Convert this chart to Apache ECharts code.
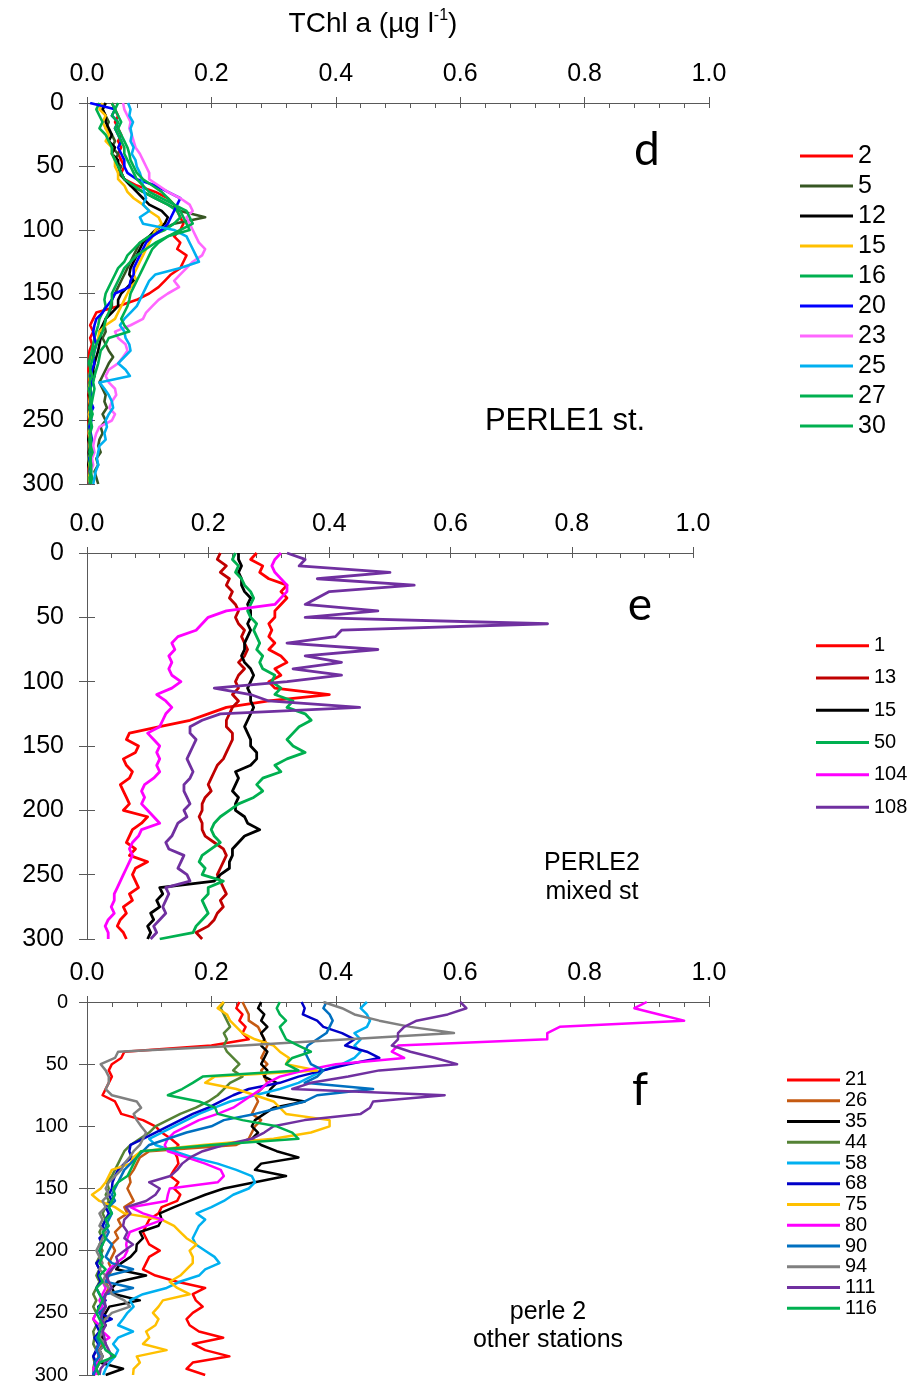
<!DOCTYPE html>
<html><head><meta charset="utf-8">
<script src="https://cdn.jsdelivr.net/npm/echarts@6/dist/echarts.min.js"></script>
<style>html,body{margin:0;padding:0;background:#fff}#c{width:917px;height:1385px}</style>
</head><body><div id="c"></div><script>
// depth (m), shared by all profiles
const depth = [0,5,10,15,20,25,30,35,40,45,50,55,60,65,70,75,80,85,90,95,100,105,110,115,120,125,130,135,140,145,150,155,160,165,170,175,180,185,190,195,200,205,210,215,220,225,230,235,240,245,250,255,260,265,270,275,280,285,290,295,300];
const xTickLabels = [0.0,0.2,0.4,0.6,0.8,1.0];
const yTickLabels = [0,50,100,150,200,250,300];

// ---- panel d : PERLE1 st. ----
const dNames = ['2','5','12','15','16','20','23','25','27','30'];
const d2 = [0.04,0.045,0.05,0.045,0.05,0.055,0.05,0.055,0.05,0.055, 0.06,0.055,0.06,0.08,0.11,0.13,0.14,0.145,0.15,0.155, 0.15,0.14,0.15,0.145,0.16,0.155,0.15,0.135,0.125,0.115, 0.1,0.08,0.05,0.015,0.01,0.005,0.01,0.005,0.008,0.004, 0.003,0.005,0.002,0.004,0.003,0.005,0.002,0.004,0.003,0.005, 0.002,0.004,0.003,0.002,0.004,0.003,0.005,0.002,0.003,0.004, 0.003];
const d5 = [0.03,0.025,0.03,0.035,0.03,0.04,0.045,0.04,0.05,0.045, 0.055,0.05,0.06,0.07,0.09,0.11,0.13,0.15,0.19,0.14, 0.12,0.1,0.085,0.08,0.075,0.07,0.065,0.06,0.055,0.05, 0.045,0.04,0.04,0.036,0.03,0.028,0.03,0.025,0.03,0.035, 0.042,0.035,0.03,0.025,0.02,0.025,0.03,0.028,0.032,0.025, 0.03,0.022,0.025,0.02,0.018,0.022,0.015,0.018,0.012,0.015, 0.018];
const d12 = [0.03,0.025,0.03,0.03,0.035,0.04,0.035,0.045,0.04,0.05, 0.05,0.055,0.06,0.07,0.08,0.09,0.1,0.12,0.13,0.125, 0.11,0.1,0.09,0.085,0.08,0.075,0.07,0.068,0.075,0.065, 0.055,0.05,0.05,0.04,0.03,0.025,0.02,0.022,0.02,0.018, 0.015,0.012,0.01,0.012,0.008,0.005,0.003,0.005,0.004,0.006, 0.003,0.005,0.004,0.002,0.005,0.003,0.004,0.002,0.005,0.003, 0.004];
const d15 = [0.025,0.02,0.03,0.025,0.03,0.035,0.03,0.04,0.04,0.045, 0.045,0.05,0.05,0.06,0.065,0.075,0.09,0.1,0.115,0.12, 0.11,0.105,0.1,0.095,0.09,0.085,0.08,0.075,0.08,0.07, 0.065,0.06,0.055,0.05,0.045,0.03,0.02,0.018,0.015,0.01, 0.008,0.005,0.006,0.004,0.005,0.003,0.005,0.004,0.006,0.003, 0.005,0.004,0.003,0.005,0.004,0.006,0.003,0.004,0.005,0.003, 0.004];
const d16 = [0.02,0.015,0.02,0.025,0.02,0.03,0.035,0.04,0.04,0.045, 0.05,0.055,0.06,0.075,0.09,0.11,0.13,0.145,0.15,0.14, 0.125,0.1,0.085,0.075,0.065,0.06,0.05,0.045,0.04,0.035, 0.03,0.028,0.03,0.025,0.02,0.018,0.015,0.012,0.01,0.008, 0.005,0.003,0.006,0.004,0.007,0.003,0.005,0.006,0.004,0.008, 0.005,0.003,0.006,0.004,0.005,0.007,0.003,0.005,0.004,0.006, 0.005];
const d20 = [0.005,0.045,0.04,0.05,0.045,0.05,0.055,0.05,0.055,0.06, 0.06,0.065,0.08,0.11,0.13,0.15,0.145,0.14,0.135,0.13, 0.12,0.105,0.095,0.09,0.085,0.08,0.075,0.075,0.07,0.068, 0.045,0.04,0.032,0.025,0.015,0.012,0.01,0.012,0.015,0.012, 0.01,0.012,0.008,0.006,0.009,0.005,0.008,0.006,0.01,0.005, 0.007,0.004,0.006,0.008,0.005,0.007,0.004,0.006,0.005,0.007, 0.004];
const d23 = [0.058,0.06,0.065,0.07,0.068,0.072,0.075,0.078,0.085,0.09, 0.095,0.1,0.1,0.115,0.13,0.15,0.165,0.17,0.16,0.165, 0.17,0.175,0.18,0.19,0.185,0.17,0.16,0.15,0.14,0.148, 0.13,0.115,0.105,0.095,0.09,0.07,0.045,0.05,0.062,0.065, 0.058,0.05,0.035,0.03,0.035,0.045,0.047,0.04,0.036,0.045, 0.04,0.02,0.015,0.012,0.01,0.012,0.008,0.01,0.006,0.008, 0.006];
const d25 = [0.066,0.07,0.068,0.074,0.07,0.072,0.07,0.075,0.072,0.078, 0.08,0.085,0.088,0.09,0.092,0.095,0.09,0.1,0.085,0.09, 0.14,0.16,0.165,0.17,0.175,0.18,0.15,0.11,0.1,0.095, 0.09,0.085,0.08,0.07,0.06,0.053,0.06,0.062,0.068,0.07, 0.06,0.05,0.062,0.069,0.02,0.028,0.035,0.04,0.042,0.035, 0.03,0.032,0.028,0.03,0.02,0.018,0.016,0.018,0.014,0.012, 0.01];
const d27 = [0.04,0.045,0.04,0.05,0.045,0.05,0.055,0.06,0.06,0.065, 0.07,0.075,0.08,0.09,0.1,0.12,0.14,0.16,0.165,0.17, 0.15,0.13,0.115,0.105,0.1,0.095,0.09,0.085,0.08,0.075, 0.07,0.068,0.065,0.06,0.055,0.06,0.068,0.035,0.03,0.022, 0.02,0.018,0.015,0.012,0.01,0.012,0.01,0.008,0.006,0.009, 0.006,0.008,0.005,0.007,0.006,0.009,0.005,0.007,0.006,0.008, 0.006];
const d30 = [0.05,0.045,0.05,0.055,0.05,0.055,0.06,0.065,0.068,0.07, 0.075,0.08,0.09,0.105,0.12,0.13,0.14,0.15,0.155,0.16, 0.165,0.13,0.11,0.095,0.08,0.07,0.06,0.055,0.05,0.045, 0.04,0.04,0.038,0.035,0.03,0.028,0.025,0.02,0.015,0.012, 0.01,0.007,0.005,0.008,0.004,0.006,0.005,0.007,0.004,0.006, 0.005,0.007,0.004,0.006,0.005,0.004,0.006,0.005,0.007,0.004, 0.005];
const dValues = [d2,d5,d12,d15,d16,d20,d23,d25,d27,d30];
const dColors = ['#FF0000','#375623','#000000','#FFC000','#00B050','#0000FF','#FF66FF','#00B0F0','#00B050','#00B050'];

// ---- panel e : PERLE2 mixed st ----
const eNames = ['1','13','15','50','104','108'];
const e1 = [0.28,0.27,0.29,0.285,0.3,0.33,0.32,0.33,0.32,0.31, 0.31,0.3,0.305,0.3,0.31,0.3,0.32,0.33,0.31,0.32, 0.3,0.31,0.4,0.3,0.23,0.2,0.17,0.12,0.07,0.065, 0.085,0.08,0.06,0.065,0.075,0.07,0.055,0.06,0.065,0.07, 0.06,0.1,0.09,0.075,0.07,0.065,0.08,0.07,0.1,0.08, 0.075,0.08,0.085,0.07,0.075,0.06,0.065,0.055,0.05,0.06, 0.065];
const e13 = [0.22,0.215,0.23,0.22,0.235,0.23,0.24,0.235,0.245,0.25, 0.245,0.25,0.26,0.255,0.26,0.265,0.26,0.25,0.26,0.25, 0.245,0.25,0.24,0.25,0.24,0.235,0.23,0.23,0.24,0.24, 0.235,0.23,0.225,0.215,0.21,0.205,0.2,0.205,0.195,0.19, 0.19,0.185,0.19,0.19,0.195,0.21,0.225,0.23,0.225,0.22, 0.215,0.22,0.225,0.23,0.22,0.225,0.215,0.21,0.2,0.18, 0.19];
const e15 = [0.25,0.25,0.255,0.25,0.255,0.255,0.26,0.27,0.265,0.27, 0.27,0.265,0.27,0.265,0.26,0.26,0.255,0.26,0.27,0.275, 0.27,0.265,0.27,0.27,0.275,0.27,0.265,0.26,0.265,0.27, 0.27,0.28,0.28,0.27,0.245,0.25,0.245,0.24,0.25,0.245, 0.245,0.26,0.265,0.285,0.26,0.25,0.24,0.24,0.235,0.235, 0.22,0.21,0.12,0.125,0.115,0.12,0.105,0.11,0.1,0.105, 0.1];
const e50 = [0.245,0.24,0.25,0.245,0.255,0.26,0.27,0.275,0.27,0.265, 0.27,0.28,0.275,0.28,0.285,0.28,0.29,0.285,0.29,0.31, 0.305,0.32,0.31,0.34,0.33,0.36,0.37,0.35,0.34,0.33, 0.34,0.36,0.33,0.31,0.32,0.29,0.28,0.29,0.275,0.25, 0.235,0.22,0.21,0.205,0.21,0.22,0.205,0.19,0.185,0.195, 0.19,0.225,0.2,0.2,0.19,0.195,0.2,0.19,0.18,0.175, 0.12];
const e104 = [0.32,0.31,0.305,0.31,0.32,0.33,0.33,0.32,0.31,0.23, 0.2,0.19,0.18,0.15,0.14,0.145,0.135,0.14,0.135,0.14, 0.155,0.14,0.115,0.13,0.14,0.13,0.125,0.12,0.1,0.11, 0.12,0.115,0.12,0.115,0.12,0.11,0.095,0.09,0.095,0.09, 0.1,0.11,0.12,0.09,0.085,0.075,0.07,0.075,0.07,0.065, 0.06,0.055,0.05,0.045,0.045,0.04,0.045,0.035,0.03,0.035, 0.035];
const e108 = [0.33,0.36,0.35,0.5,0.38,0.54,0.4,0.38,0.36,0.48, 0.36,0.76,0.42,0.41,0.33,0.48,0.36,0.42,0.34,0.42, 0.33,0.21,0.27,0.3,0.45,0.22,0.19,0.17,0.17,0.18, 0.175,0.17,0.165,0.17,0.175,0.17,0.16,0.16,0.165,0.17, 0.16,0.165,0.15,0.145,0.14,0.13,0.135,0.16,0.155,0.15, 0.165,0.17,0.13,0.135,0.13,0.125,0.13,0.12,0.11,0.115, 0.105];
const eValues = [e1,e13,e15,e50,e104,e108];
const eColors = ['#FF0000','#C00000','#000000','#00B050','#FF00FF','#7030A0'];

// ---- panel f : perle 2 other stations ----
const fNames = ['21','26','35','44','58','68','75','80','90','94','111','116'];
const f21 = [0.245,0.24,0.25,0.245,0.255,0.25,0.26,0.2,0.06,0.055, 0.04,0.035,0.04,0.035,0.03,0.025,0.045,0.05,0.055,0.09, 0.11,0.12,0.135,0.147,0.14,0.145,0.147,0.14,0.134,0.147, 0.14,0.15,0.145,0.12,0.115,0.1,0.095,0.09,0.095,0.1, 0.117,0.1,0.095,0.09,0.11,0.145,0.19,0.17,0.175,0.186, 0.17,0.16,0.165,0.18,0.219,0.17,0.19,0.229,0.17,0.16, 0.19];
const f26 = [0.25,0.255,0.26,0.26,0.275,0.28,0.285,0.29,0.285,0.28, 0.29,0.28,0.285,0.29,0.28,0.27,0.275,0.27,0.265,0.28, 0.27,0.265,0.26,0.24,0.1,0.085,0.08,0.075,0.068,0.07, 0.065,0.07,0.075,0.06,0.065,0.05,0.055,0.045,0.05,0.04, 0.045,0.04,0.035,0.04,0.035,0.03,0.035,0.03,0.025,0.03, 0.025,0.03,0.02,0.025,0.02,0.025,0.02,0.018,0.02,0.015, 0.018];
const f35 = [0.28,0.275,0.285,0.28,0.29,0.28,0.285,0.28,0.29,0.285, 0.28,0.29,0.285,0.305,0.295,0.29,0.35,0.3,0.285,0.27, 0.265,0.275,0.265,0.28,0.305,0.34,0.28,0.27,0.32,0.27, 0.22,0.19,0.165,0.14,0.117,0.12,0.115,0.085,0.09,0.08, 0.079,0.07,0.055,0.047,0.095,0.05,0.04,0.045,0.085,0.036, 0.03,0.025,0.03,0.02,0.025,0.03,0.02,0.025,0.02,0.058, 0.03];
const f44 = [0.22,0.215,0.22,0.225,0.23,0.22,0.225,0.22,0.225,0.235, 0.245,0.235,0.25,0.23,0.22,0.21,0.195,0.175,0.15,0.13, 0.11,0.1,0.085,0.07,0.06,0.055,0.05,0.045,0.04,0.032, 0.035,0.03,0.035,0.03,0.025,0.03,0.025,0.02,0.025,0.02, 0.025,0.02,0.015,0.02,0.015,0.02,0.015,0.01,0.015,0.01, 0.015,0.01,0.015,0.01,0.012,0.01,0.015,0.01,0.012,0.01, 0.012];
const f58 = [0.45,0.44,0.45,0.455,0.45,0.43,0.44,0.43,0.44,0.43, 0.41,0.38,0.36,0.34,0.31,0.27,0.23,0.205,0.18,0.16, 0.14,0.12,0.1,0.11,0.14,0.17,0.21,0.24,0.265,0.27, 0.26,0.235,0.22,0.2,0.176,0.19,0.18,0.175,0.17,0.175, 0.19,0.205,0.213,0.19,0.18,0.149,0.128,0.09,0.069,0.075, 0.065,0.058,0.05,0.074,0.05,0.042,0.05,0.045,0.036,0.03, 0.026];
const f68 = [0.345,0.35,0.347,0.37,0.38,0.41,0.43,0.415,0.45,0.47, 0.42,0.38,0.34,0.31,0.26,0.235,0.215,0.195,0.17,0.15, 0.13,0.11,0.09,0.07,0.068,0.072,0.06,0.05,0.045,0.041, 0.04,0.035,0.04,0.03,0.035,0.03,0.025,0.03,0.02,0.025, 0.02,0.025,0.015,0.02,0.018,0.022,0.015,0.02,0.03,0.018, 0.02,0.04,0.015,0.02,0.012,0.018,0.015,0.01,0.015,0.012, 0.01];
const f75 = [0.22,0.21,0.225,0.23,0.24,0.25,0.27,0.3,0.31,0.325, 0.32,0.37,0.205,0.19,0.24,0.27,0.3,0.31,0.32,0.39, 0.39,0.36,0.3,0.186,0.087,0.074,0.07,0.04,0.035,0.03, 0.022,0.008,0.02,0.045,0.06,0.12,0.14,0.15,0.16,0.176, 0.165,0.17,0.17,0.16,0.15,0.133,0.145,0.165,0.122,0.115, 0.106,0.115,0.11,0.095,0.1,0.09,0.128,0.08,0.085,0.075, 0.074];
const f80 = [0.9,0.88,0.92,0.96,0.76,0.74,0.74,0.5,0.49,0.51, 0.4,0.35,0.31,0.29,0.28,0.265,0.25,0.235,0.21,0.18, 0.16,0.14,0.13,0.125,0.13,0.16,0.19,0.215,0.22,0.21, 0.133,0.13,0.128,0.07,0.09,0.122,0.095,0.069,0.065,0.063, 0.065,0.06,0.047,0.035,0.03,0.025,0.03,0.025,0.02,0.025, 0.015,0.01,0.02,0.025,0.036,0.02,0.015,0.02,0.015,0.01, 0.015];
const f90 = [0.385,0.38,0.39,0.395,0.39,0.385,0.37,0.355,0.35,0.355, 0.36,0.38,0.37,0.35,0.46,0.37,0.35,0.31,0.27,0.22, 0.2,0.16,0.13,0.1,0.09,0.08,0.07,0.06,0.055,0.05, 0.045,0.04,0.045,0.035,0.04,0.035,0.03,0.035,0.03,0.04, 0.035,0.03,0.04,0.074,0.035,0.03,0.074,0.03,0.025,0.03, 0.02,0.025,0.02,0.025,0.015,0.02,0.015,0.02,0.012,0.015, 0.01];
const f94 = [0.38,0.41,0.43,0.47,0.52,0.59,0.42,0.25,0.05,0.045, 0.022,0.03,0.035,0.035,0.03,0.04,0.08,0.087,0.075,0.08, 0.087,0.095,0.09,0.085,0.075,0.068,0.06,0.055,0.045,0.035, 0.03,0.035,0.025,0.03,0.02,0.025,0.02,0.03,0.025,0.02, 0.015,0.02,0.025,0.02,0.03,0.025,0.035,0.04,0.06,0.069, 0.04,0.03,0.02,0.025,0.02,0.03,0.02,0.025,0.02,0.015, 0.02];
const f111 = [0.6,0.61,0.58,0.53,0.51,0.5,0.5,0.49,0.52,0.56, 0.595,0.47,0.42,0.36,0.33,0.575,0.46,0.455,0.44,0.35, 0.3,0.285,0.265,0.22,0.186,0.166,0.153,0.145,0.134,0.1, 0.117,0.11,0.095,0.063,0.07,0.06,0.058,0.065,0.06,0.074, 0.06,0.047,0.05,0.04,0.031,0.035,0.04,0.03,0.028,0.03, 0.025,0.022,0.03,0.025,0.028,0.03,0.035,0.04,0.03,0.022, 0.02];
const f116 = [0.31,0.305,0.31,0.32,0.31,0.315,0.32,0.34,0.36,0.33, 0.32,0.34,0.186,0.17,0.153,0.13,0.18,0.206,0.21,0.25, 0.305,0.33,0.34,0.2,0.087,0.08,0.075,0.07,0.065,0.05, 0.042,0.045,0.04,0.035,0.04,0.03,0.035,0.025,0.03,0.025, 0.02,0.025,0.02,0.03,0.02,0.025,0.015,0.02,0.025,0.02, 0.015,0.02,0.025,0.02,0.018,0.025,0.03,0.045,0.02,0.015, 0.02];
const fValues = [f21,f26,f35,f44,f58,f68,f75,f80,f90,f94,f111,f116];
const fColors = ['#FF0000','#C55A11','#000000','#548235','#00B0F0','#0000C8','#FFC000','#FF00FF','#0070C0','#808080','#7030A0','#00B050'];

// ---------- build chart ----------
const FONT = 'Liberation Sans, Arial, sans-serif';
const AX = '#595959';
const grids = [
  {left:87, top:103, width:622, height:381},
  {left:87, top:553, width:606, height:386},
  {left:87, top:1002, width:622, height:373}
];
const yLabelSize = [25,25,20];
const yLabelMargin = [23,23,19];

const xAxis = [], yAxis = [];
grids.forEach((g, gi) => {
  xAxis.push({type:'value', gridIndex:gi, position:'top', min:0, max:1, interval:0.2,
    axisLine:{show:true, onZero:false, lineStyle:{color:AX, width:1}},
    axisTick:{show:true, inside:true, length:5, lineStyle:{color:AX}},
    minorTick:{show:true, splitNumber:5, length:5, lineStyle:{color:AX}},
    splitLine:{show:false}, minorSplitLine:{show:false},
    axisLabel:{fontSize:25, fontFamily:FONT, color:'#000', margin:16,
      formatter: v => { const i = Math.round(v/0.2); return xTickLabels[i] !== undefined ? xTickLabels[i].toFixed(1) : ''; }}
  });
  xAxis.push({type:'value', gridIndex:gi, position:'top', min:0, max:1, interval:0.2,
    axisLine:{show:false}, axisTick:{show:true, inside:false, length:6, lineStyle:{color:AX}},
    axisLabel:{show:false}, splitLine:{show:false}
  });
  yAxis.push({type:'value', gridIndex:gi, position:'left', inverse:true, min:0, max:300, interval:50,
    axisLine:{show:true, onZero:false, lineStyle:{color:AX, width:1}},
    axisTick:{show:true, inside:false, length:8, lineStyle:{color:AX}},
    splitLine:{show:false},
    axisLabel:{fontSize:yLabelSize[gi], fontFamily:FONT, color:'#000', margin:yLabelMargin[gi],
      formatter: v => { const i = Math.round(v/50); return yTickLabels[i] !== undefined ? String(yTickLabels[i]) : ''; }}
  });
  yAxis.push({type:'value', gridIndex:gi, position:'left', inverse:true, min:0, max:300, interval:50,
    axisLine:{show:false}, axisTick:{show:true, inside:true, length:8, lineStyle:{color:AX}},
    axisLabel:{show:false}, splitLine:{show:false}
  });
});

const series = [];
function addPanel(prefix, gi, names, values, colors, lw) {
  names.forEach((n, k) => {
    series.push({
      type:'line', name: prefix + '_' + n, xAxisIndex: gi*2, yAxisIndex: gi*2,
      data: values[k].map((v, i) => [v, depth[i]]),
      showSymbol:false, symbol:'none', silent:true, animation:false,
      lineStyle:{color: colors[k], width: lw, join:'round'}, itemStyle:{color: colors[k]},
      emphasis:{disabled:true}
    });
  });
}
addPanel('d', 0, dNames, dValues, dColors, 2.6);
addPanel('e', 1, eNames, eValues, eColors, 2.8);
addPanel('f', 2, fNames, fValues, fColors, 2.5);

function legendFor(prefix, names, left, top, fs, lh, iw) {
  return {orient:'vertical', left, top, padding:0, itemGap:0, itemWidth:iw, itemHeight:3, icon:'rect',
    selectedMode:false, data: names.map(n => prefix + '_' + n),
    formatter: nm => nm.split('_')[1],
    textStyle:{fontSize:fs, lineHeight:lh, fontFamily:FONT, color:'#000'}};
}

const option = {
  backgroundColor:'#fff',
  animation:false,
  grid: grids,
  xAxis, yAxis, series,
  legend: [
    legendFor('d', dNames, 800, 141, 25, 30, 53),
    legendFor('e', eNames, 816, 629.5, 20, 32.3, 53),
    legendFor('f', fNames, 787, 1069.6, 20, 20.76, 53)
  ],
  graphic: {elements: [
    {type:'text', x:373, y:24, style:{text:'{a|TChl a (µg l}{s|-1}{a|)}', align:'center', verticalAlign:'middle',
      rich:{a:{fontSize:28, fontFamily:FONT, fill:'#000', lineHeight:32}, s:{fontSize:16, fontFamily:FONT, fill:'#000', verticalAlign:'top', lineHeight:16}}}},
    {type:'text', x:647, y:150, style:{text:'d', font:'46px Lato, "Open Sans", sans-serif', fill:'#000', align:'center', verticalAlign:'middle'}},
    {type:'text', x:640, y:605, style:{text:'e', font:'46px Lato, "Open Sans", sans-serif', fill:'#000', align:'center', verticalAlign:'middle'}},
    {type:'text', x:640, y:1090, style:{text:'f', font:'46px Lato, "Open Sans", sans-serif', fill:'#000', align:'center', verticalAlign:'middle'}},
    {type:'text', x:565, y:421, style:{text:'PERLE1 st.', font:'31px ' + FONT, fill:'#000', align:'center', verticalAlign:'middle'}},
    {type:'text', x:592, y:877.5, style:{text:'PERLE2\nmixed st', font:'25px ' + FONT, lineHeight:29, fill:'#000', align:'center', verticalAlign:'middle'}},
    {type:'text', x:548, y:1326, style:{text:'perle 2\nother stations', font:'25px ' + FONT, lineHeight:28, fill:'#000', align:'center', verticalAlign:'middle'}}
  ]}
};

const chart = echarts.init(document.getElementById('c'), null, {renderer:'canvas', width:917, height:1385});
chart.setOption(option);
</script></body></html>
